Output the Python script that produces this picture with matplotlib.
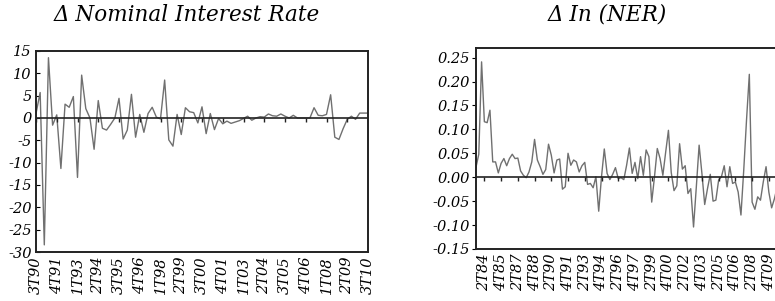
import matplotlib
matplotlib.use("Agg")
import matplotlib.pyplot as plt

plt.rcParams['font.family'] = ['DejaVu Serif']
plt.rcParams['font.style'] = 'italic'

# change in nominal interest rate, quarterly from 3T90
rate_change = [1.0, 5.7, -28.4, 13.5, -1.6, 0.7, -11.3, 3.1, 2.4, 4.8,
               -13.3, 9.6, 2.1, 0.0, -7.0, 3.9, -2.3, -2.7, -1.4, 0.0,
               4.4, -4.7, -2.7, 5.3, -4.3, 0.8, -3.2, 1.0, 2.4, 0.2,
               -0.2, 8.5, -4.9, -6.3, 0.8, -3.7, 2.3, 1.4, 1.2, -1.1,
               2.5, -3.5, 1.0, -2.6, -0.1, -1.3, -0.7, -1.2, -0.9, -0.6,
               -0.1, 0.4, -0.5, 0.0, 0.3, 0.2, 0.9, 0.5, 0.4, 0.9,
               0.4, 0.0, 0.6, 0.0, 0.0, 0.0, 0.0, 2.3, 0.6, 0.5,
               0.8, 5.2, -4.3, -4.8, -2.4, -0.3, 0.4, -0.3, 1.1, 1.1,
               1.1]
rate_labels = ['3T90', '4T91', '1T93', '2T94', '3T95', '4T96', '1T98', '2T99',
               '3T00', '4T01', '1T03', '2T04', '3T05', '4T06', '1T08', '2T09',
               '3T10']
rate_yticks = [15, 10, 5, 0, -5, -10, -15, -20, -25, -30]

# change in log nominal exchange rate, quarterly from 3T83
ner_change = [0.021, 0.048, 0.241, 0.116, 0.114, 0.140, 0.032, 0.032, 0.009, 0.029,
              0.039, 0.024, 0.039, 0.048, 0.039, 0.040, 0.013, 0.004, -0.001, 0.011,
              0.032, 0.079, 0.036, 0.022, 0.006, 0.016, 0.069, 0.046, 0.009, 0.036,
              0.038, -0.025, -0.020, 0.050, 0.025, 0.036, 0.032, 0.011, 0.024, 0.031,
              -0.015, -0.013, -0.022, 0.001, -0.071, 0.001, 0.059, 0.008, -0.005, 0.006,
              0.020, -0.003, -0.001, -0.005, 0.025, 0.061, 0.008, 0.031, -0.003, 0.043,
              0.004, 0.057, 0.043, -0.052, 0.001, 0.060, 0.039, 0.004, 0.052, 0.098,
              0.010, -0.028, -0.018, 0.070, 0.017, 0.024, -0.034, -0.024, -0.104, -0.020,
              0.067, 0.008, -0.057, -0.024, 0.006, -0.050, -0.048, -0.006, 0.001, 0.024,
              -0.020, 0.022, -0.013, -0.010, -0.031, -0.079, 0.015, 0.120, 0.215, -0.052,
              -0.067, -0.041, -0.048, -0.010, 0.022, -0.031, -0.064, -0.045, -0.020]
ner_labels = ['2T84', '4T85', '2T87', '4T88', '2T90', '4T91', '2T93', '4T94',
              '2T96', '4T97', '2T99', '4T00', '2T02', '4T03', '2T05', '4T06',
              '2T08', '4T09']
ner_yticks = [0.25, 0.20, 0.15, 0.10, 0.05, 0.00, -0.05, -0.10, -0.15]

line_col = '#707070'
spine_col = '#222222'

fig = plt.figure(figsize=(7.75, 3.01), dpi=100)

# left panel
ax1 = fig.add_axes([36/775, 49/301, 332/775, 201/301])
ax1.plot(range(len(rate_change)), rate_change, color=line_col, lw=1.0)
ax1.axhline(0, color=spine_col, lw=1.2)
ax1.set_xlim(0, len(rate_change) - 1)
ax1.set_ylim(-30, 15)
ax1.set_yticks(rate_yticks)
ax1.set_yticklabels([str(v) for v in rate_yticks], fontsize=10.5)
ax1.tick_params(axis='y', direction='in', length=3, pad=3)
pos1 = list(range(0, 5 * len(rate_labels), 5))
ax1.set_xticks(pos1)
ax1.set_xticklabels(rate_labels, rotation=90, fontsize=10.5)
ax1.tick_params(axis='x', length=0, pad=3)
ax1.vlines(pos1, -0.9, 0, color=spine_col, lw=1.0)
for s in ax1.spines.values():
    s.set_linewidth(1.4)
    s.set_color(spine_col)
fig.text(187/775, 1 - 15/301, '\u0394 Nominal Interest Rate', ha='center', va='center',
         fontsize=15.5)

# right panel (runs past the figure edge)
ax2 = fig.add_axes([476/775, 52/301, 304/775, 201/301])
ax2.plot(range(len(ner_change)), ner_change, color=line_col, lw=1.0)
ax2.axhline(0, color=spine_col, lw=1.2)
ax2.set_xlim(0, len(ner_change))
ax2.set_ylim(-0.15, 0.27)
ax2.set_yticks(ner_yticks)
ax2.set_yticklabels(['%.2f' % v for v in ner_yticks], fontsize=10.5)
ax2.tick_params(axis='y', direction='out', length=3, pad=1.5)
pos2 = list(range(3, 3 + 6 * len(ner_labels), 6))
ax2.set_xticks(pos2)
ax2.set_xticklabels(ner_labels, rotation=90, fontsize=10.5)
ax2.tick_params(axis='x', length=0, pad=3)
ax2.vlines(pos2, -0.008, 0, color=spine_col, lw=1.0)
for s in ax2.spines.values():
    s.set_linewidth(1.4)
    s.set_color(spine_col)
fig.text(607/775, 1 - 15/301, '\u0394 In (NER)', ha='center', va='center', fontsize=15.5)

fig.savefig('out.png', dpi=100)
